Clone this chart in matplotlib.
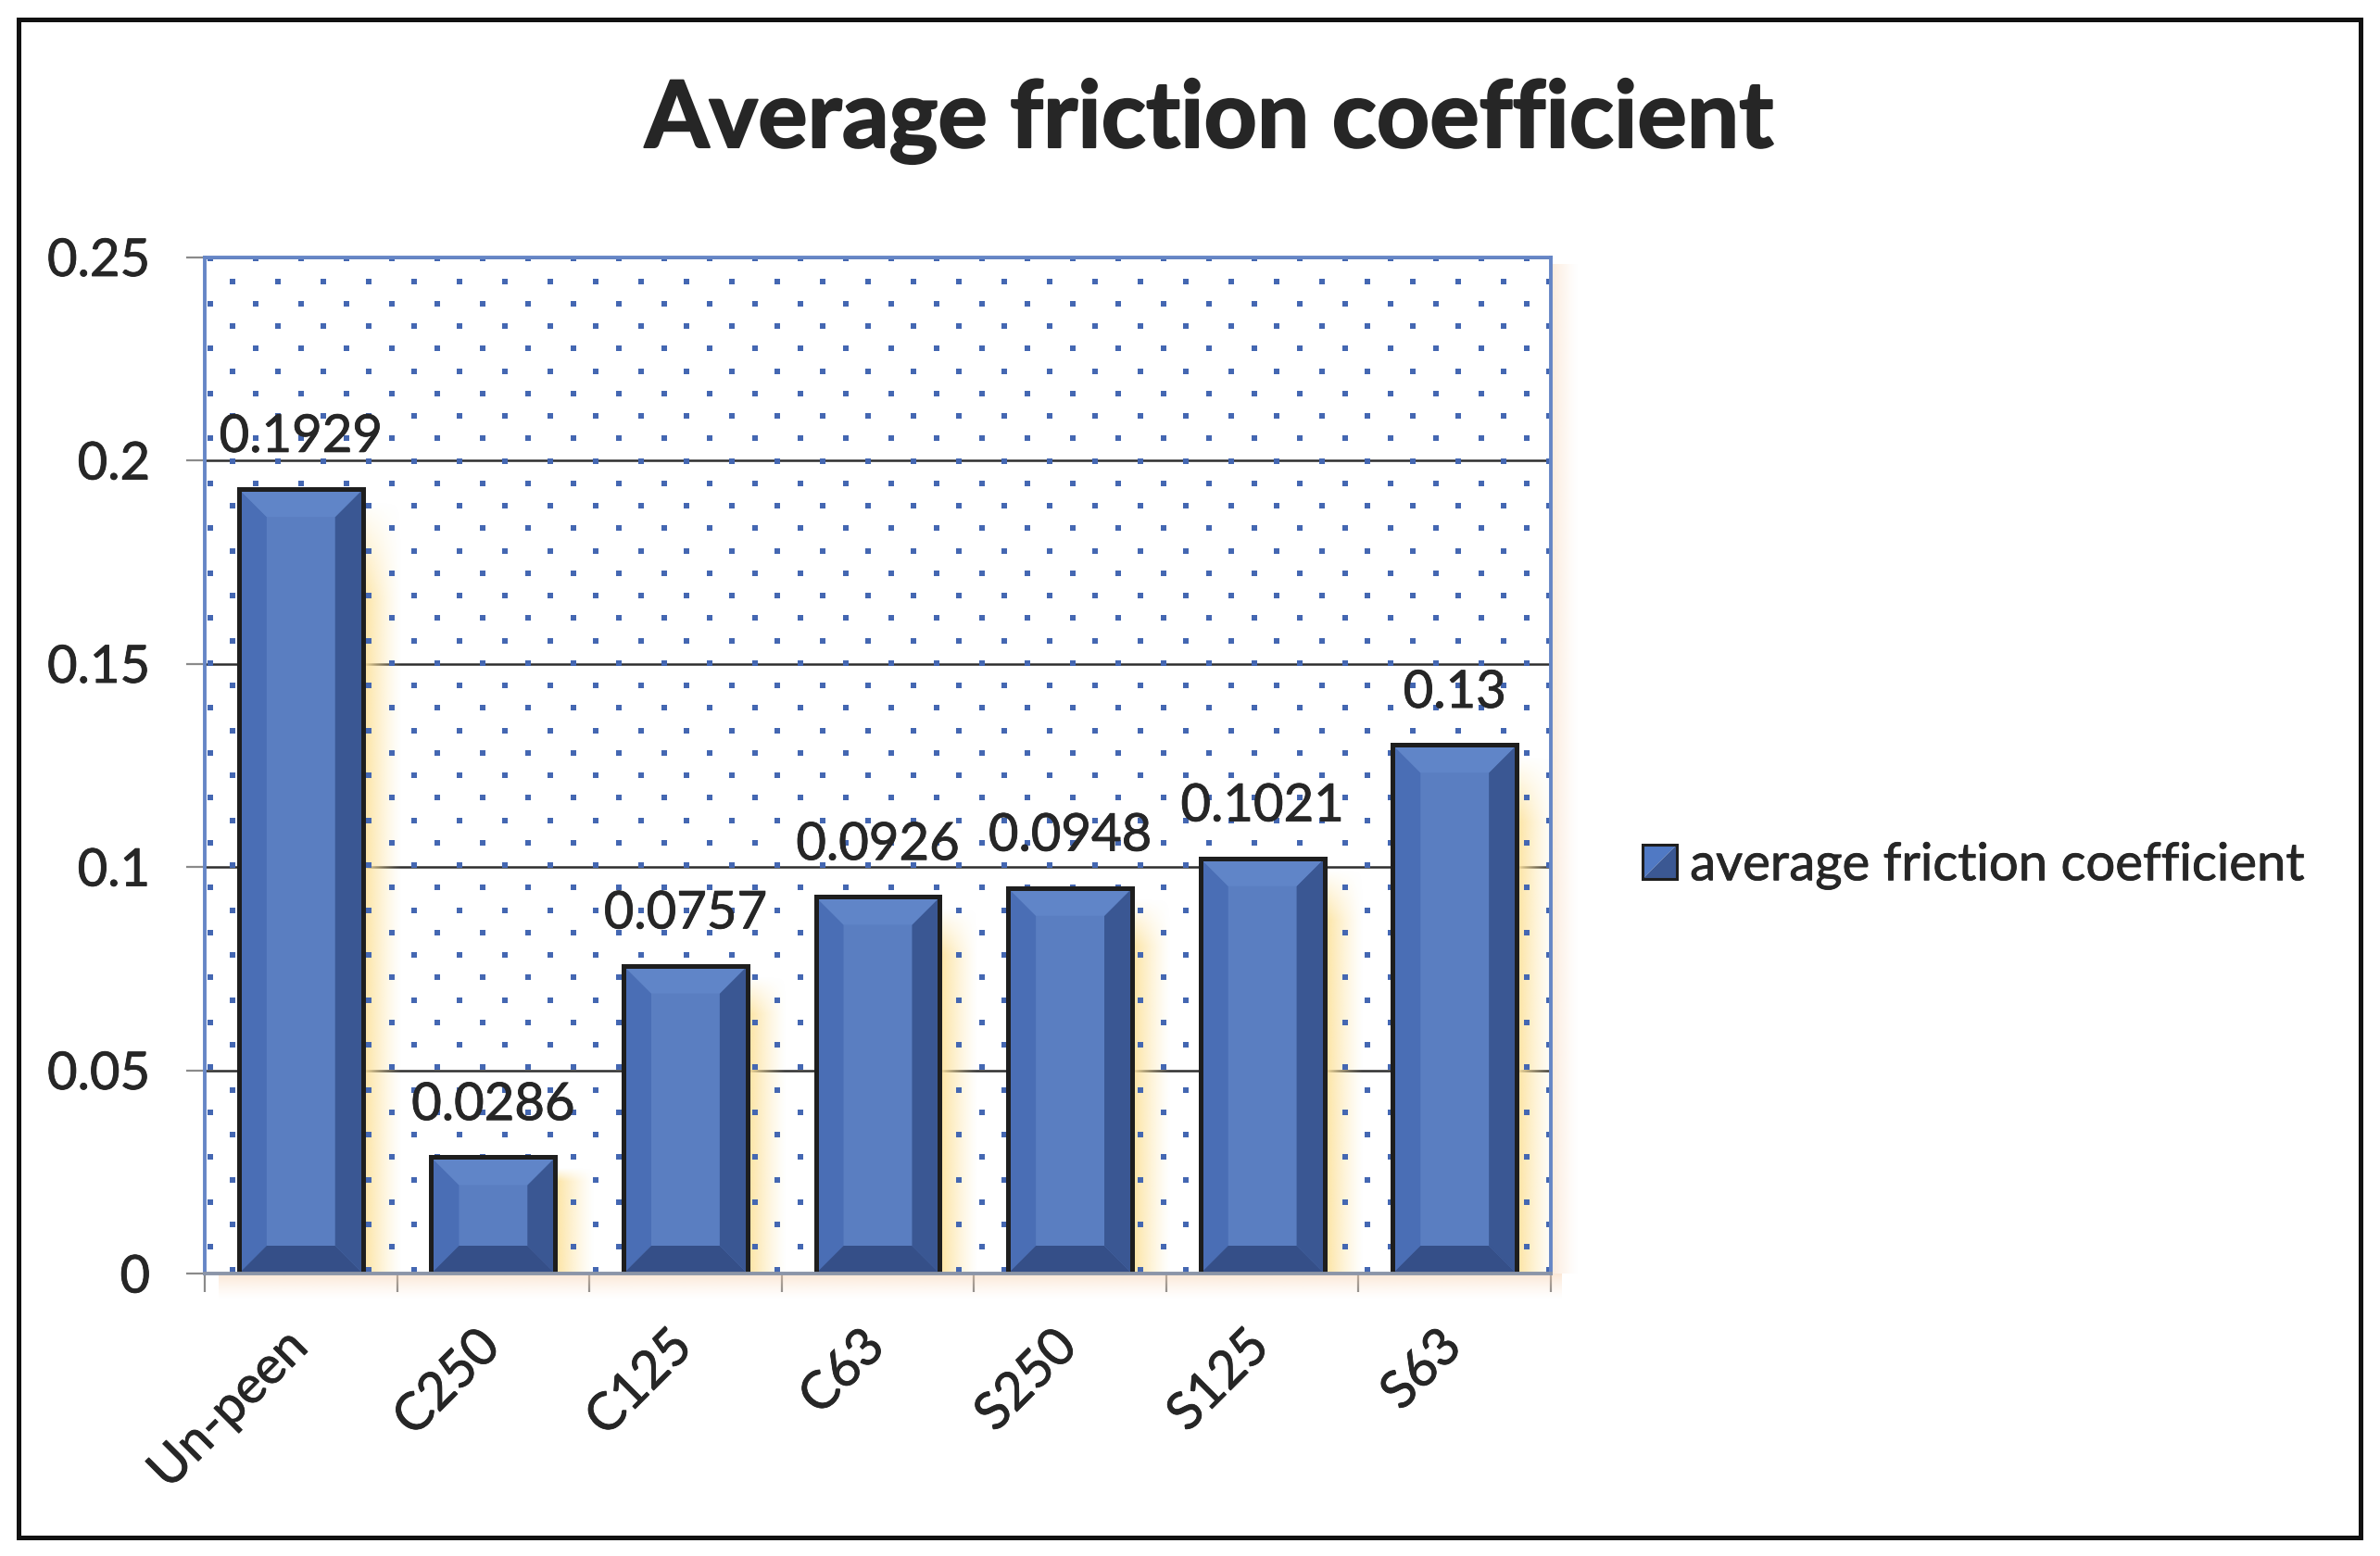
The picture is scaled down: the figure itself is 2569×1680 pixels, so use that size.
import numpy as np
import matplotlib
matplotlib.use("Agg")
import matplotlib.pyplot as plt
from matplotlib.patches import Polygon, Rectangle, Patch
from matplotlib.legend_handler import HandlerBase
import matplotlib.transforms as mtransforms
import matplotlib.patheffects as pe

# ---------------- data ----------------
categories = ["Un-peen", "C250", "C125", "C63", "S250", "S125", "S63"]
values = [0.1929, 0.0286, 0.0757, 0.0926, 0.0948, 0.1021, 0.13]
value_labels = ["0.1929", "0.0286", "0.0757", "0.0926", "0.0948", "0.1021", "0.13"]
yticks = [0, 0.05, 0.1, 0.15, 0.2, 0.25]
ytick_labels = ["0", "0.05", "0.1", "0.15", "0.2", "0.25"]
series_name = "average friction coefficient"
title = "Average friction coefficient"

# ---------------- style ----------------
W, H, DPI = 2569, 1680, 100
FONT = ["Lato", "DejaVu Sans"]
plt.rcParams["font.family"] = FONT
TXT = "#262626"
FS = 40.5
THICK = [pe.withStroke(linewidth=0.6, foreground=TXT)]
C_CENTER = "#5a7ec1"
C_LEFT = "#4a6eb5"
C_TOP = "#6085c8"
C_RIGHT = "#3a5793"
C_BOTTOM = "#354f88"

fig = plt.figure(figsize=(W / DPI, H / DPI), dpi=DPI)
fig.patch.set_facecolor("white")

# axes placement (pixels)
L, R, T, B = 221, 1674, 277.5, 1375
ax = fig.add_axes([L / W, 1 - B / H, (R - L) / W, (B - T) / H])
ax.set_facecolor("white")

n = len(categories)
x = np.arange(n)
ax.set_xlim(-0.5, n - 0.5)
ax.set_ylim(0, 0.25)

px_x = (R - L) / n          # pixels per x unit
px_y = (B - T) / 0.25       # pixels per y unit
def dxp(p):
    return p / px_x
def dyp(p):
    return p / px_y

# ---------------- background dot pattern ----------------
dot_x, dot_y = [], []
row = 0
yy = 279.3
while yy < B:
    x0 = 226.7 if row % 2 == 0 else 250.7
    xx = x0
    while xx < R - 1:
        dot_x.append((xx - L) / (R - L))
        dot_y.append(1 - (yy - T) / (B - T))
        xx += 49
    row += 1
    yy += 24.25
ax.scatter(dot_x, dot_y, transform=ax.transAxes, marker="s", s=13,
           color="#4467b2", linewidths=0, zorder=1.2, clip_on=True)

# ---------------- glows ----------------
def hgrad(color, w=64, h=64, vfade=0, a0=1.0):
    rgb = matplotlib.colors.to_rgb(color)
    a = a0 * np.linspace(1, 0, w) ** 1.3
    A = np.tile(a, (h, 1))
    if vfade:
        v = np.clip(np.linspace(0, h / vfade, h), 0, 1)
        A = A * v[:, None]
    img = np.zeros((h, w, 4))
    img[..., :3] = rgb
    img[..., 3] = A
    return img

bw = 0.645
for xi, v in zip(x, values):
    top = v - dyp(12)
    img = hgrad("#fde3a0", h=200, vfade=25)
    ax.imshow(img, extent=[xi + bw / 2, xi + bw / 2 + dxp(42), 0, top],
              origin="upper", aspect="auto", zorder=1.0, interpolation="bilinear")

# bottom glow (below axis)
rgb = matplotlib.colors.to_rgb("#f9d2b0")
a = np.linspace(0.6, 0, 64) ** 1.3
img = np.zeros((64, 2, 4)); img[..., :3] = rgb; img[..., 3] = a[:, None]
ax.imshow(img, extent=[-0.5 + dxp(15), n - 0.5 + dxp(12), -dyp(28), 0], origin="upper",
          aspect="auto", zorder=0.9, clip_on=False, interpolation="bilinear")
# right glow (outside plot area)
a = np.linspace(0.55, 0, 64) ** 1.3
img = np.zeros((2, 64, 4)); img[..., :3] = rgb; img[..., 3] = a[None, :]
ax.imshow(img, extent=[n - 0.5, n - 0.5 + dxp(30), 0, 0.25 - dyp(8)], origin="upper",
          aspect="auto", zorder=0.9, clip_on=False, interpolation="bilinear")

ax.set_xlim(-0.5, n - 0.5)
ax.set_ylim(0, 0.25)

# ---------------- grid ----------------
ax.set_yticks(yticks)
ax.set_yticklabels(ytick_labels)
ax.yaxis.grid(True, color="#2e2e2e", linewidth=1.8, zorder=1.5)
ax.set_axisbelow(True)

# ---------------- bars with bevel ----------------
ax.bar(x, values, width=bw, color=C_CENTER, edgecolor="none", zorder=3)
bev_x, bev_y = dxp(30), dyp(30)
for xi, v in zip(x, values):
    l, r = xi - bw / 2, xi + bw / 2
    by = min(bev_y, v / 2)
    polys = [
        ([(l, 0), (l + bev_x, by), (l + bev_x, v - by), (l, v)], C_LEFT),
        ([(r, 0), (r - bev_x, by), (r - bev_x, v - by), (r, v)], C_RIGHT),
        ([(l, v), (l + bev_x, v - by), (r - bev_x, v - by), (r, v)], C_TOP),
        ([(l, 0), (l + bev_x, by), (r - bev_x, by), (r, 0)], C_BOTTOM),
    ]
    for pts, c in polys:
        ax.add_patch(Polygon(pts, closed=True, facecolor=c, edgecolor="none", zorder=3.2))
ax.bar(x, values, width=bw, fill=False, edgecolor="#1e1e1e", linewidth=3.6, zorder=3.5)

# value labels
for xi, v, lab in zip(x, values, value_labels):
    ax.annotate(lab, xy=(xi, v), xytext=(0, 29), textcoords="offset points",
                ha="center", va="baseline", fontsize=FS, color=TXT, zorder=5,
                path_effects=THICK)

# ---------------- axes styling ----------------
for s in ["left", "top", "right"]:
    ax.spines[s].set_color("#6686c6")
    ax.spines[s].set_linewidth(2.8)
ax.spines["bottom"].set_color("#8b95a8")
ax.spines["bottom"].set_linewidth(2.8)
for sp in ax.spines.values():
    sp.set_zorder(4)

ax.tick_params(axis="y", which="major", direction="out", length=14.4, width=1.6,
               color="#8a8a8a", pad=28, labelsize=FS, labelcolor=TXT)
ax.set_xticks(x)
ax.set_xticklabels(categories, rotation=45, ha="right", va="top")
ax.set_xticks(np.arange(n + 1) - 0.5, minor=True)
ax.tick_params(axis="x", which="major", length=0, pad=38, labelsize=FS, labelcolor=TXT)
ax.tick_params(axis="x", which="minor", direction="out", length=14.4, width=1.6,
               color="#8a8a8a")
offset = mtransforms.ScaledTranslation(17 / DPI, 0, fig.dpi_scale_trans)
for lab in ax.get_xticklabels():
    lab.set_transform(lab.get_transform() + offset)
    lab.set_path_effects(THICK)
for lab in ax.get_yticklabels():
    lab.set_path_effects(THICK)

# ---------------- legend ----------------
class BevelHandler(HandlerBase):
    def create_artists(self, legend, orig_handle, xdescent, ydescent, width, height,
                       fontsize, trans):
        s = min(width, height)
        x0, y0 = -xdescent, -ydescent + (height - s) / 2
        t1 = Polygon([(x0, y0), (x0, y0 + s), (x0 + s, y0 + s)], closed=True,
                     facecolor="#5079c4", edgecolor="none", transform=trans)
        t2 = Polygon([(x0, y0), (x0 + s, y0), (x0 + s, y0 + s)], closed=True,
                     facecolor="#3b5893", edgecolor="none", transform=trans)
        rect = Rectangle((x0, y0), s, s, fill=False, edgecolor="#1e1e1e",
                         linewidth=2.2, transform=trans)
        return [t1, t2, rect]

h = Patch(facecolor=C_CENTER, edgecolor="#1e1e1e", label=series_name)
leg = fig.legend(handles=[h], labels=[series_name], loc="center left",
                 bbox_to_anchor=(1773 / W, 1 - 935 / H), frameon=False,
                 fontsize=FS, handlelength=0.66, handleheight=0.66,
                 handletextpad=0.25, borderaxespad=0, borderpad=0,
                 handler_map={Patch: BevelHandler()})
for t in leg.get_texts():
    t.set_color(TXT)
    t.set_path_effects(THICK)

# ---------------- title ----------------
fig.text(1305 / W, 1 - 159 / H, title, ha="center", va="baseline",
         fontsize=72, fontweight="bold", color=TXT,
         path_effects=[pe.withStroke(linewidth=1.5, foreground=TXT)])

# ---------------- outer frame ----------------
fig.patches.append(Rectangle((20 / W, 1 - 1660 / H), (2548 - 20) / W, (1660 - 21) / H,
                             transform=fig.transFigure, fill=False,
                             edgecolor="#111111", linewidth=3.6, zorder=10))

fig.savefig("out.png", dpi=DPI, facecolor="white")
